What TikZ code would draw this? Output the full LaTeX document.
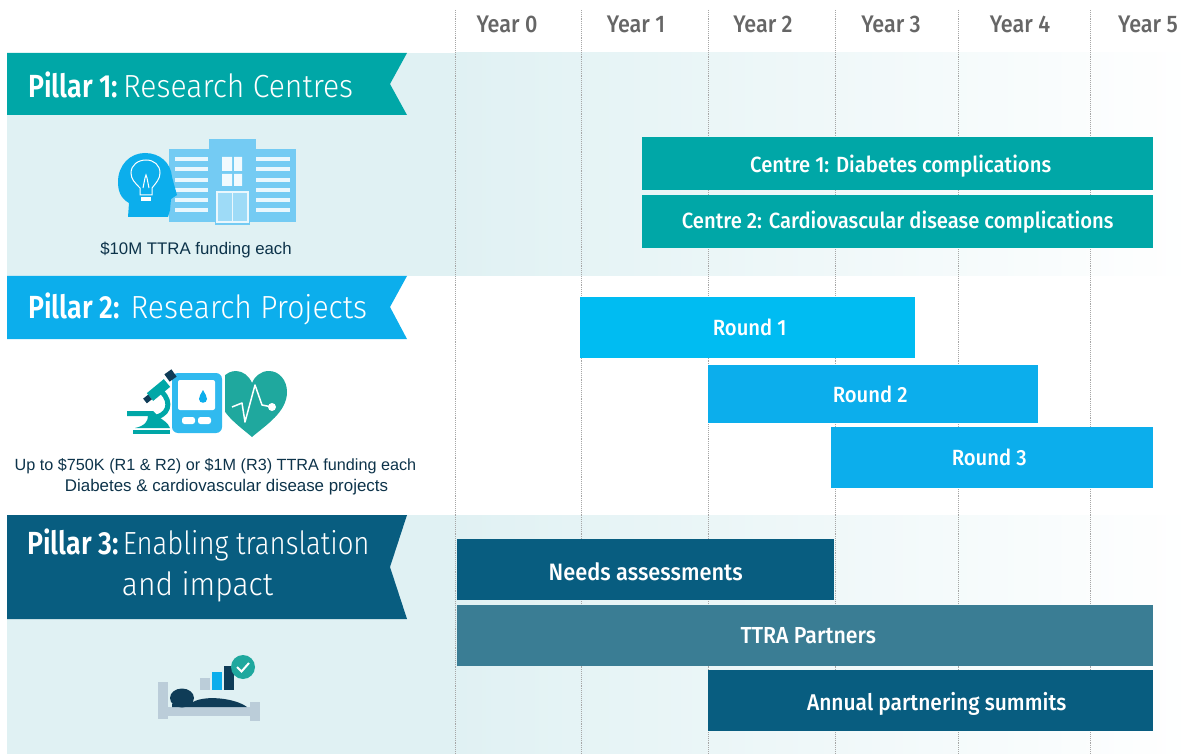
\documentclass[tikz,border=0pt]{standalone}
\usepackage{fontspec}
\setmainfont{Open Sans}
\newfontfamily\dinbold[FakeStretch=0.84]{Fira Sans SemiBold}
\newfontfamily\dinbar[FakeStretch=0.92]{Fira Sans Medium}
\newfontfamily\dinlight[FakeStretch=0.94]{Fira Sans Light}
\newfontfamily\dinlightn[FakeStretch=0.86]{Fira Sans Light}
\newfontfamily\dinyear[FakeStretch=0.9]{Fira Sans Medium}
\newfontfamily\smalltext{Liberation Sans}
\usetikzlibrary{positioning}
\definecolor{tealc}{HTML}{00A7A7}
\definecolor{bluec}{HTML}{0CAEEC}
\definecolor{skyc}{HTML}{00BCF2}
\definecolor{darkc}{HTML}{085D80}
\definecolor{midc}{HTML}{3A7D94}
\definecolor{bandc}{HTML}{E0F1F3}
\definecolor{buildc}{HTML}{74CBF3}
\definecolor{navyc}{HTML}{0F3C57}
\definecolor{bedc}{HTML}{BBCDD9}
\definecolor{heartc}{HTML}{1FA89E}
\newcommand{\lowered}[2]{\raisebox{#1}[\height][\depth]{#2}}
\begin{document}
\begin{tikzpicture}[x=1pt,y=-1pt]
	\tikzstyle{Bar} = [anchor=north west,inner sep=0pt,text=white,font=\dinbar\fontsize{22}{24}\selectfont]
	\tikzstyle{Yr} = [text=black!60,font=\dinyear\fontsize{24}{26}\selectfont]
	\tikzstyle{Title} = [inner sep=0pt,text=white,font=\fontsize{32}{43}\selectfont]
	\tikzstyle{Cap} = [inner sep=0pt,text=navyc!85!black,font=\smalltext\fontsize{16.2}{18}\selectfont]
	\tikzstyle{Grid} = [densely dotted,line width=.9pt,black!35]
	\useasboundingbox (0,0) rectangle (1192,754);
	% bands
	\fill[bandc] (7,53) rectangle (455,276);
	\shade[left color=bandc,right color=white] (455,53) rectangle (1192,276);
	\fill[bandc] (7,515) rectangle (455,754);
	\shade[left color=bandc,right color=white] (455,515) rectangle (1192,754);
	% years
	\foreach \x/\lab/\n in {507/Year 0/0,636/Year 1/1,763/Year 2/2,891/Year 3/3,1020/Year 4/4,1148/Year 5/5}
		\node[Yr] (y\n) at (\x,24) {\lab};
	\foreach \x in {455,581,708,835,958,1090}
		\draw[Grid] (\x,10) -- (\x,754);
	% ribbons
	\fill[tealc] (7,53) -- (407,53) -- (390,84) -- (407,115) -- (7,115) -- cycle;
	\fill[bluec] (7,276) -- (407,276) -- (390,307) -- (407,339) -- (7,339) -- cycle;
	\fill[darkc] (7,515) -- (407,515) -- (390,567) -- (407,619) -- (7,619) -- cycle;
	\node[Title,anchor=west] (P1) at (28,85) {{\dinbold Pillar 1:}{\dinlight\hspace{5pt}Research Centres}};
	\node[Title,anchor=west] (P2) at (28,309) {{\dinbold Pillar 2:}{\dinlight\hspace{11pt}Research Projects}};
	\node[Title,anchor=west] (P3) at (27,545) {{\dinbold Pillar 3:}{\dinlightn\hspace{4pt}Enabling translation}};
	\node[Title,anchor=center] (P3b) at (197.5,587) {\dinlight and impact};
	% bars
	\node[Bar,fill=tealc,minimum width=511pt,minimum height=53pt] (C1) at (642,137) {\lowered{-2.5pt}{\hspace*{6pt}Centre 1: Diabetes complications}};
	\node[Bar,fill=tealc,minimum width=511pt,minimum height=53pt] (C2) at (642,195) {Centre 2: Cardiovascular disease complications};
	\node[Bar,fill=skyc,minimum width=335pt,minimum height=61pt] (R1) at (580,297) {\hspace*{4pt}Round 1};
	\node[Bar,fill=bluec,minimum width=330pt,minimum height=58pt] (R2) at (708,365) {\hspace*{-6pt}Round 2};
	\node[Bar,fill=bluec,minimum width=322pt,minimum height=61pt] (R3) at (831,427) {\hspace*{-6pt}Round 3};
	\node[Bar,fill=darkc,minimum width=377pt,minimum height=61pt,font=\dinbar\fontsize{23.7}{24}\selectfont] (NA) at (457,539) {\lowered{-2.5pt}{Needs assessments}};
	\node[Bar,fill=midc,minimum width=696pt,minimum height=61pt,font=\dinbar\fontsize{23.2}{24}\selectfont] (TP) at (457,605) {\hspace*{6pt}TTRA Partners};
	\node[Bar,fill=darkc,minimum width=445pt,minimum height=61pt,font=\dinbar\fontsize{22.8}{24}\selectfont] (AS) at (708,670) {\lowered{-3pt}{\hspace*{12pt}Annual partnering summits}};
	% captions
	\node[Cap,font=\smalltext\fontsize{16.8}{18}\selectfont] (cap1) at (196,250) {\$10M TTRA funding each};
	\node[Cap] (cap2) at (215.5,466) {Up to \$750K (R1 \& R2) or \$1M (R3) TTRA funding each};
	\node[Cap,font=\smalltext\fontsize{16.9}{18}\selectfont] (cap3) at (226.5,487) {Diabetes \& cardiovascular disease projects};
	% building
	\fill[buildc] (169,149) rectangle (296,222);
	\fill[buildc] (209,139) rectangle (256,222);
	\fill[buildc] (215,222) rectangle (250,225.5);
	\foreach \y in {159,169,180,190,200,210} {
		\fill[white!85!buildc] (175,\y-2.3) rectangle (208,\y+2.3);
		\fill[white!85!buildc] (256,\y-2.3) rectangle (290,\y+2.3);
	}
	\fill[white!90!buildc] (222,157) rectangle (232,171) (234,157) rectangle (242,171);
	\fill[white!90!buildc] (222,174) rectangle (232,186) (234,174) rectangle (242,186);
	\draw[white!85!buildc,line width=1.2pt,fill=buildc!70] (217,192) rectangle (248,222);
	\draw[white!85!buildc,line width=1.2pt] (232.5,192) -- (232.5,222);
	% head
	\fill[bluec] (128,217) -- (129,203) .. controls (120,198) and (118,190) .. (118,182)
		.. controls (118,165) and (130,153) .. (145,153)
		.. controls (160,153) and (171,163) .. (172,177)
		-- (177,195) -- (171,199) -- (170,210) -- (168,217) -- cycle;
	\draw[white,line width=1pt] (140,195) -- (140,188) .. controls (135,183) and (131,179) .. (131,173)
		.. controls (131,165) and (138,160) .. (146,160)
		.. controls (154,160) and (160,165) .. (160,173)
		.. controls (160,179) and (156,183) .. (152,188) -- (152,195) -- cycle;
	\fill[white] (141,197) rectangle (151,201);
	\draw[white,line width=1pt] (143,188) -- (145,178) -- (146,175) -- (147,178) -- (149,188);
	% heart
	\fill[heartc] (252,437) .. controls (238,425) and (218,412) .. (218,392)
		.. controls (218,380) and (226,371) .. (236,371)
		.. controls (243,371) and (249,376) .. (252,383)
		.. controls (255,376) and (261,371) .. (269,371)
		.. controls (279,371) and (287,380) .. (287,392)
		.. controls (287,412) and (266,425) .. (252,437) -- cycle;
	\draw[white,line width=1.5pt,line join=round] (232,407) -- (242,403) -- (245,422) -- (255,385) -- (262,405) -- (272,407);
	\fill[white] (272,407) circle (4);
	% meter
	\fill[white] (169,370) rectangle (225,436);
	\fill[bluec!85!white,rounded corners=6pt] (172,373) rectangle (222,433);
	\fill[white,rounded corners=2pt] (178,380) rectangle (215,410);
	\fill[bluec] (203,390) .. controls (205,394) and (207,396) .. (207,399) .. controls (207,404) and (199,404) .. (199,399) .. controls (199,396) and (201,394) .. (203,390) -- cycle;
	\fill[white,rounded corners=2.5pt] (182,417) rectangle (195,424);
	\fill[white,rounded corners=2.5pt] (198,417) rectangle (211,424);
	% microscope
	\fill[tealc] (133,430) rectangle (170,434);
	\fill[tealc] (135,428) .. controls (145,426) and (148,421) .. (148,416) -- (127,416) -- (127,411) -- (153,411) -- (158,416) .. controls (162,420) and (168,422) .. (170,428) -- cycle;
	\draw[tealc,line width=5pt] (162,392) .. controls (172,402) and (170,417) .. (150,418);
	\draw[tealc,line width=10pt] (150,397) -- (167,383);
	\draw[navyc,line width=6pt] (145,401) -- (150,397);
	\draw[navyc,line width=9pt] (167,378) -- (174,373);
	% bed
	\fill[bedc] (158,682) rectangle (168,719);
	\fill[bedc] (250,702) rectangle (260,721);
	\fill[bedc] (168,707) rectangle (250,716);
	\fill[navyc] (182,698) ellipse (12 and 9.5);
	\fill[navyc] (172,707) -- (247,707) .. controls (235,698) and (205,695) .. (193,702) -- (172,704) -- cycle;
	\fill[bedc] (200,678) rectangle (210,690);
	\fill[bluec] (212,672) rectangle (222,690);
	\fill[navyc] (224,666) rectangle (234,690);
	\fill[heartc] (243,667) circle (12);
	\draw[white,line width=2pt] (237,667) -- (241.5,671.5) -- (249,663);
\end{tikzpicture}
\end{document}
